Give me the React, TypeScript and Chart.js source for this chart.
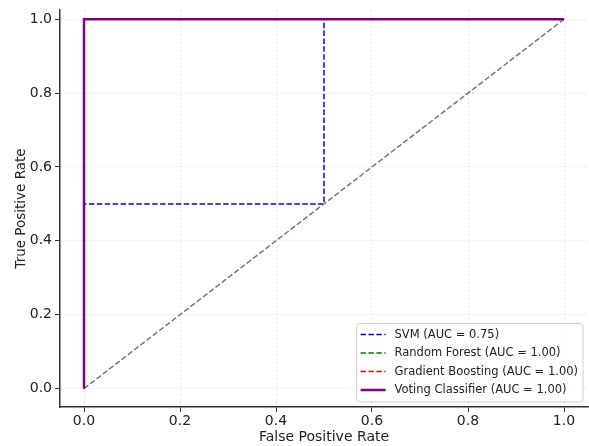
import React, { useEffect, useRef } from "react";
import { Chart, registerables } from "chart.js";

Chart.register(...registerables);

const TICKS = [0, 0.2, 0.4, 0.6, 0.8, 1.0];

const SVM_FPR = [0, 0, 0.5, 0.5, 1];
const SVM_TPR = [0, 0.5, 0.5, 1, 1];
const RF_FPR = [0, 0, 1];
const RF_TPR = [0, 1, 1];
const GB_FPR = [0, 0, 1];
const GB_TPR = [0, 1, 1];
const VOTE_FPR = [0, 0, 1];
const VOTE_TPR = [0, 1, 1];
const DIAG_FPR = [0, 1];
const DIAG_TPR = [0, 1];

const LABELS = [
  "SVM (AUC = 0.75)",
  "Random Forest (AUC = 1.00)",
  "Gradient Boosting (AUC = 1.00)",
  "Voting Classifier (AUC = 1.00)",
];

const FONT = "'DejaVu Sans', sans-serif";
const DASH = [5.5, 2.4];

const pts = (xs: number[], ys: number[]) => xs.map((x, i) => ({ x, y: ys[i] }));

const legendPlugin = {
  id: "innerLegend",
  afterDraw(chart: any) {
    const ctx = chart.ctx as CanvasRenderingContext2D;
    const area = chart.chartArea;
    const items = chart.data.datasets.filter((d: any) => d.label);
    ctx.save();
    ctx.font = `11.5px ${FONT}`;
    const textW = Math.max(...items.map((d: any) => ctx.measureText(d.label).width));
    const padL = 4, handle = 25, gap = 9, padR = 5, rowH = 18.5, padT = 11, padB = 12;
    const w = padL + handle + gap + textW + padR;
    const h = padT + rowH * (items.length - 1) + padB;
    const right = area.right - 5;
    const bottom = area.bottom - 5;
    const left = right - w;
    const top = bottom - h;
    ctx.beginPath();
    const r = 3;
    ctx.moveTo(left + r, top);
    ctx.lineTo(right - r, top);
    ctx.arcTo(right, top, right, top + r, r);
    ctx.lineTo(right, bottom - r);
    ctx.arcTo(right, bottom, right - r, bottom, r);
    ctx.lineTo(left + r, bottom);
    ctx.arcTo(left, bottom, left, bottom - r, r);
    ctx.lineTo(left, top + r);
    ctx.arcTo(left, top, left + r, top, r);
    ctx.closePath();
    ctx.fillStyle = "rgba(255,255,255,0.85)";
    ctx.fill();
    ctx.strokeStyle = "#d0d0d0";
    ctx.lineWidth = 1;
    ctx.stroke();
    items.forEach((d: any, i: number) => {
      const cy = top + padT + rowH * i;
      ctx.beginPath();
      ctx.setLineDash(d.borderDash || []);
      ctx.strokeStyle = d.borderColor;
      ctx.lineWidth = d.borderWidth;
      ctx.moveTo(left + padL, cy);
      ctx.lineTo(left + padL + handle, cy);
      ctx.stroke();
      ctx.setLineDash([]);
      ctx.fillStyle = "#222";
      ctx.textBaseline = "middle";
      ctx.textAlign = "left";
      ctx.fillText(d.label, left + padL + handle + gap, cy + 0.5);
    });
    ctx.restore();
  },
};

export default function App() {
  const ref = useRef<HTMLCanvasElement>(null);
  useEffect(() => {
    if (!ref.current) return;
    const axisCommon = (titleText: string, isY: boolean) => ({
      type: "linear" as const,
      min: -0.05,
      max: isY ? 1.025 : 1.05,
      afterBuildTicks: (scale: any) => {
        scale.ticks = TICKS.map((v) => ({ value: v }));
      },
      afterFit: (scale: any) => {
        if (isY) {
          scale.width = 60;
          scale.paddingTop = 0;
          scale.paddingBottom = 0;
        } else {
          scale.height = 39;
          scale.paddingLeft = 0;
          scale.paddingRight = 0;
        }
      },
      ticks: {
        callback: (v: any) => Number(v).toFixed(1),
        font: { family: FONT, size: 14 },
        color: "#222",
        padding: isY ? 3 : 1,
        maxRotation: 0,
        autoSkip: false,
      },
      grid: {
        color: "#e2e2e2",
        lineWidth: 0.8,
        tickColor: "#333",
        tickLength: 5,
        tickWidth: 1,
        tickBorderDash: [],
        drawTicks: true,
      },
      border: { display: true, color: "#333", width: 1.5, dash: [2, 2] },
      title: {
        display: true,
        text: titleText,
        font: { family: FONT, size: isY ? 13.5 : 14 },
        color: "#222",
        padding: isY ? { top: 13, bottom: 0 } : { top: 0, bottom: 0 },
      },
    });
    const chart = new Chart(ref.current, {
      type: "scatter",
      data: {
        datasets: [
          {
            label: LABELS[0],
            data: pts(SVM_FPR, SVM_TPR),
            borderColor: "#0000ff",
            borderWidth: 1.5,
            borderDash: DASH,
            showLine: true,
            pointRadius: 0,
            order: 4,
          },
          {
            label: LABELS[1],
            data: pts(RF_FPR, RF_TPR),
            borderColor: "#008000",
            borderWidth: 1.5,
            borderDash: DASH,
            showLine: true,
            pointRadius: 0,
            order: 3,
          },
          {
            label: LABELS[2],
            data: pts(GB_FPR, GB_TPR),
            borderColor: "#ff0000",
            borderWidth: 1.5,
            borderDash: DASH,
            showLine: true,
            pointRadius: 0,
            order: 2,
          },
          {
            label: LABELS[3],
            data: pts(VOTE_FPR, VOTE_TPR),
            borderColor: "#800080",
            borderWidth: 2.5,
            showLine: true,
            pointRadius: 0,
            order: 0,
          },
          {
            label: "",
            data: pts(DIAG_FPR, DIAG_TPR),
            borderColor: "#777777",
            borderWidth: 1.5,
            borderDash: DASH,
            showLine: true,
            pointRadius: 0,
            order: 1,
          },
        ] as any,
      },
      options: {
        animation: false,
        responsive: false,
        layout: { padding: { left: 0, right: 1, top: 10, bottom: 0 } },
        plugins: { legend: { display: false }, tooltip: { enabled: false } },
        scales: {
          x: axisCommon("False Positive Rate", false),
          y: axisCommon("True Positive Rate", true),
        } as any,
      },
      plugins: [legendPlugin],
    });
    return () => chart.destroy();
  }, []);
  return (
    <div style={{ position: "fixed", left: 0, top: 0, width: 589, height: 446, background: "#fff" }}>
      <canvas ref={ref} width={589} height={446} />
    </div>
  );
}
